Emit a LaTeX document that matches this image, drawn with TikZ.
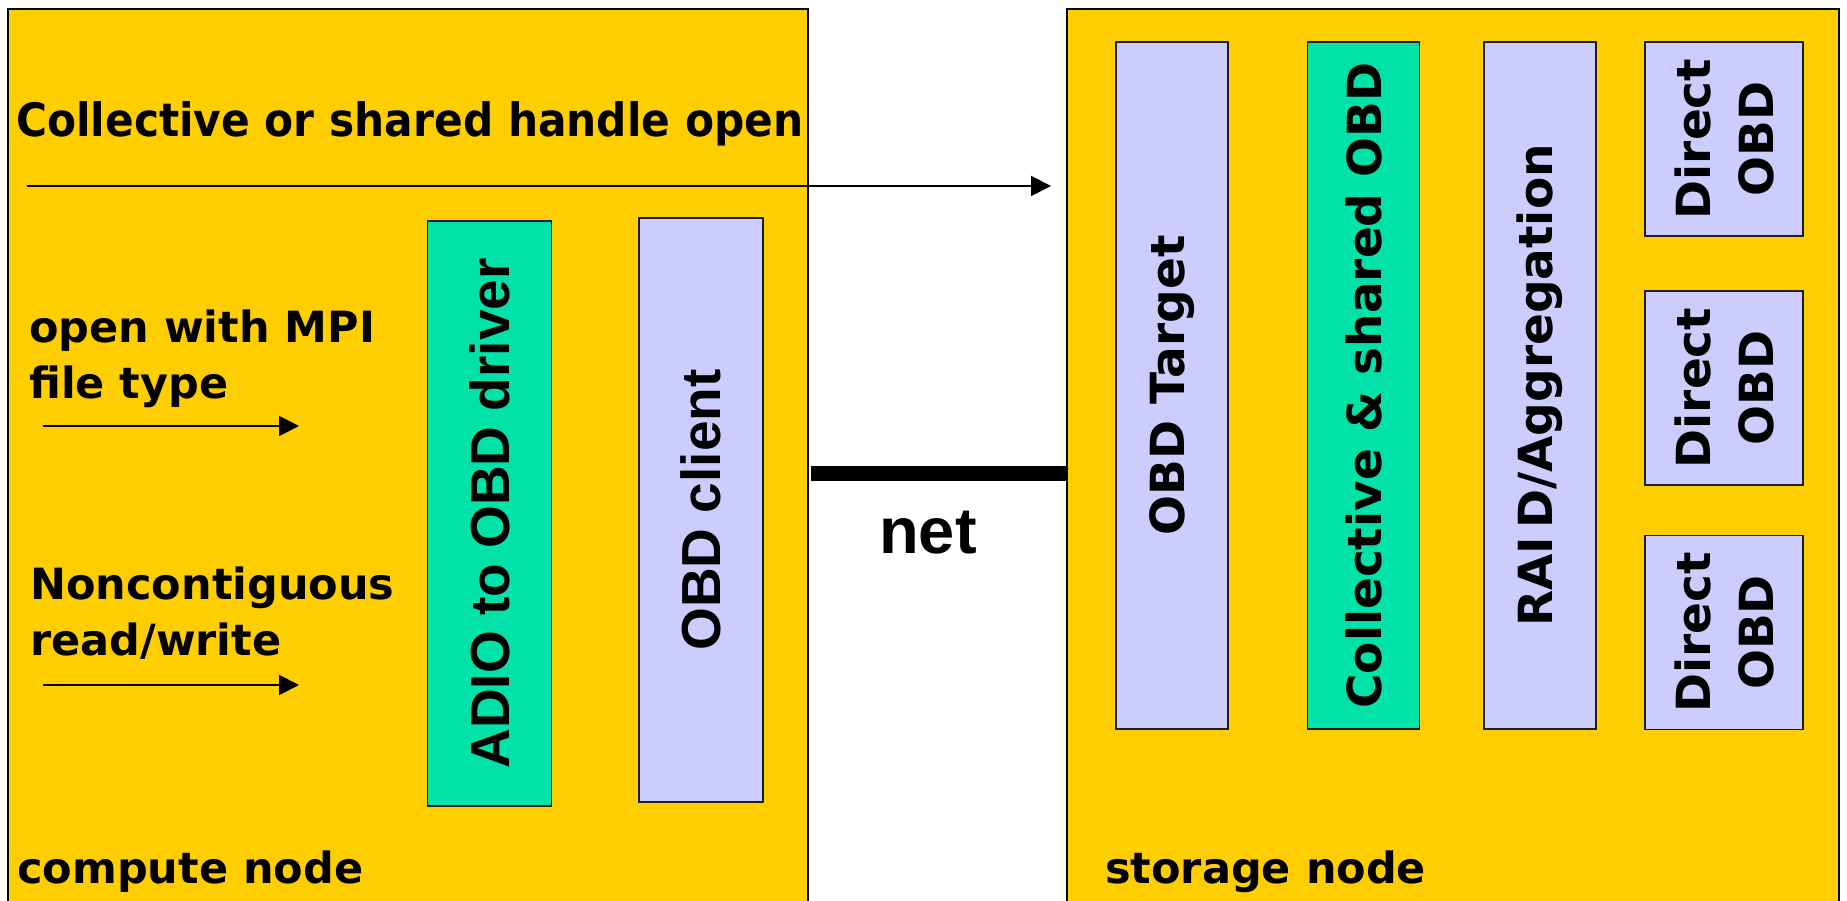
\documentclass[tikz,border=0pt]{standalone}
\usepackage{fontspec}
\usepackage{graphicx}
\usetikzlibrary{arrows.meta}
\newfontfamily\vfont{DejaVu Sans}
\newfontfamily\afont{Liberation Sans}
\definecolor{hostyellow}{RGB}{255,206,0}
\definecolor{lavender}{RGB}{204,204,255}
\definecolor{mint}{RGB}{0,226,168}
\definecolor{edgegrey}{RGB}{30,30,30}
\begin{document}
\begin{tikzpicture}[x=1pt,y=-1pt,
  hostfill/.style={fill=hostyellow},
  hostedge/.style={line width=2pt,draw=black},
  layer/.style={draw=edgegrey,line width=1.8pt,inner sep=0pt,rotate=90,align=center},
  lavbox/.style={layer,fill=lavender},
  mintbox/.style={layer,fill=mint},
  wideverd/.style={font=\vfont\bfseries\fontsize{47}{63}\selectfont},
  arial/.style={font=\afont\bfseries\fontsize{55}{60}\selectfont},
  sidelabel/.style={font=\vfont\bfseries\fontsize{43}{56}\selectfont,inner sep=0pt,align=left},
  flow/.style={line width=2pt,-{Triangle[length=20pt,width=20pt]}},
  netline/.style={line width=15pt}
]
\useasboundingbox (0,0) rectangle (1847,901);
\fill[white] (0,0) rectangle (1847,901);

% compute node and storage node enclosures
\fill[hostfill] (8,9) rectangle (808,901);
\draw[hostedge] (8,901) -- (8,9) -- (808,9) -- (808,901);
\fill[hostfill] (1067,9) rectangle (1839,901);
\draw[hostedge] (1067,901) -- (1067,9) -- (1839,9) -- (1839,901);

\node[anchor=base west,inner sep=0pt,font=\vfont\bfseries\fontsize{46}{50}\selectfont] (openlbl) at (16,137)
  {\scalebox{0.92}[1]{Collective or shared handle open}};
\node[sidelabel,anchor=base west] (cnode) at (17,883) {compute node};
\node[sidelabel,anchor=base west] (snode) at (1105,883) {storage node};

\node[sidelabel,anchor=north west] (mpilbl) at (29,310) {open with MPI\\file type};
\node[sidelabel,anchor=north west] (nclbl) at (30,567) {Noncontiguous\\read/write};

% compute-side layers
\node[mintbox,arial,minimum width=585pt,minimum height=124pt] (adio) at (489.5,513.5) {ADIO to OBD driver};
\node[lavbox,arial,minimum width=584pt,minimum height=124pt] (client) at (701,510) {OBD client};

% storage-side layers
\node[lavbox,wideverd,minimum width=687pt,minimum height=112pt] (target) at (1172,385.5) {OBD Target};
\node[mintbox,wideverd,minimum width=687pt,minimum height=112pt] (coll) at (1363.5,385.5) {Collective \& shared OBD};
\node[lavbox,wideverd,minimum width=687pt,minimum height=112pt] (raid) at (1540,385.5) {RAI\kern8pt D/Aggregation};
\node[lavbox,wideverd,minimum width=194pt,minimum height=158pt] (d1) at (1724,139) {Direct\\OBD};
\node[lavbox,wideverd,minimum width=194pt,minimum height=158pt] (d2) at (1724,388) {Direct\\OBD};
\node[lavbox,wideverd,minimum width=194pt,minimum height=158pt] (d3) at (1724,632.5) {Direct\\OBD};

% request arrows
\coordinate (openL) at (27,186);
\coordinate (openR) at (1051,186);
\draw[flow] (openL) -- (openR);
\coordinate (mpiL) at (43,426);
\coordinate (mpiR) at (299,426);
\draw[flow] (mpiL) -- (mpiR);
\coordinate (ncL) at (43,685);
\coordinate (ncR) at (299,685);
\draw[flow] (ncL) -- (ncR);

% network link
\coordinate (netL) at (811,473.5);
\coordinate (netR) at (1067,473.5);
\draw[netline] (netL) -- (netR);
\node[anchor=base,inner sep=0pt,font=\afont\bfseries\fontsize{65}{70}\selectfont] (netlbl) at (928,553) {net};
\end{tikzpicture}
\end{document}
